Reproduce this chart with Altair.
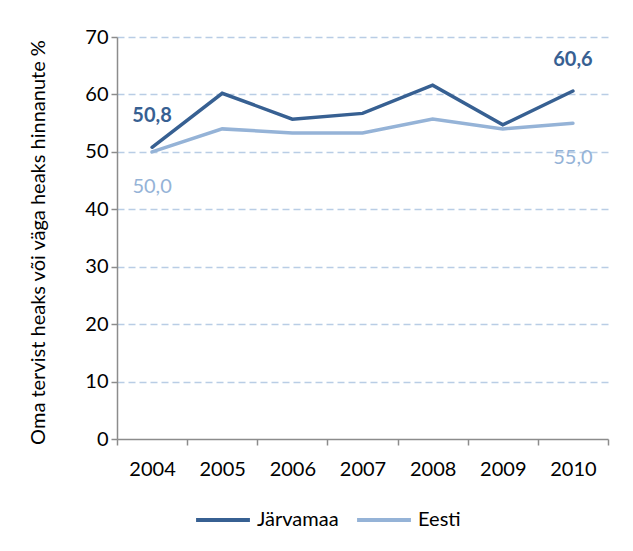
import altair as alt
import pandas as pd

years = ["2004", "2005", "2006", "2007", "2008", "2009", "2010"]
jarvamaa = [50.8, 60.2, 55.7, 56.7, 61.6, 54.7, 60.6]
eesti = [50.0, 54.0, 53.3, 53.3, 55.7, 54.0, 55.0]
series_names = ["Järvamaa", "Eesti"]
series_colors = ["#376092", "#95B3D7"]
y_ticks = [0, 10, 20, 30, 40, 50, 60, 70]
label_years = ["2004", "2010"]
y_title = "Oma tervist heaks või väga heaks hinnanute %"

rows = []
for name, vals in zip(series_names, [jarvamaa, eesti]):
    for yr, v in zip(years, vals):
        rows.append({"year": yr, "series": name, "value": v,
                     "label": f"{v:.1f}".replace(".", ","),
                     "show": yr in label_years})
df = pd.DataFrame(rows)

FONT = "Lato"

x_enc = alt.X(
    "year:O",
    scale=alt.Scale(type="band", domain=years, paddingInner=0, paddingOuter=0),
    bandPosition=0.5,
    axis=alt.Axis(
        title=None, tickBand="extent", labelAngle=0, labelPadding=14,
        tickSize=6, tickColor="#8c8c8c", domainColor="#8c8c8c",
        domainWidth=1.5, tickWidth=1.5, grid=False,
    ),
)
y_enc = alt.Y(
    "value:Q",
    scale=alt.Scale(domain=[0, 70], nice=False, zero=True),
    axis=alt.Axis(
        values=y_ticks, title=y_title, grid=True,
        gridDash=[7, 4], gridColor="#b9cde5", gridWidth=1.5,
        gridOpacity=alt.condition("datum.value == 0", alt.value(0), alt.value(1)),
        tickSize=6, tickColor="#8c8c8c", domainColor="#8c8c8c",
        domainWidth=1.5, tickWidth=1.5, labelPadding=3,
        titleX=-79, titleY=205, titleAngle=270, titleBaseline="middle",
        titleAlign="center",
    ),
)

base = alt.Chart(df)

lines = base.mark_line(strokeWidth=3.5, strokeCap="round", strokeJoin="miter").encode(
    x=x_enc,
    y=y_enc,
    color=alt.Color(
        "series:N",
        scale=alt.Scale(domain=series_names, range=series_colors),
        legend=alt.Legend(
            title=None, orient="none", legendX=77, legendY=454,
            direction="horizontal", symbolType="stroke", symbolSize=2900,
            symbolStrokeWidth=4, labelFontSize=20, labelFont=FONT,
            labelColor="#000000", columnPadding=10, labelOffset=5,
            padding=0,
        ),
    ),
)

j_labels = base.transform_filter(
    f"datum.series == '{series_names[0]}' && datum.show"
).mark_text(dy=-31, fontWeight="bold", fontSize=20, font=FONT, color=series_colors[0]).encode(
    x=x_enc, y=y_enc, text="label:N"
)
e_labels = base.transform_filter(
    f"datum.series == '{series_names[1]}' && datum.show"
).mark_text(dy=35, fontSize=20, font=FONT, color=series_colors[1]).encode(
    x=x_enc, y=y_enc, text="label:N"
)

chart = alt.layer(lines, j_labels, e_labels).properties(
    width=491, height=402,
    autosize=alt.AutoSizeParams(type="none"),
    padding={"left": 109, "top": 29, "right": 17, "bottom": 104},
    background="white",
).configure_axis(
    labelFont=FONT, labelFontSize=20, labelColor="#000000",
    titleFont=FONT, titleFontSize=20, titleFontWeight="normal", titleColor="#000000",
).configure_view(stroke=None)

chart.save("out.html", embed_options={"renderer": "svg", "actions": False})
